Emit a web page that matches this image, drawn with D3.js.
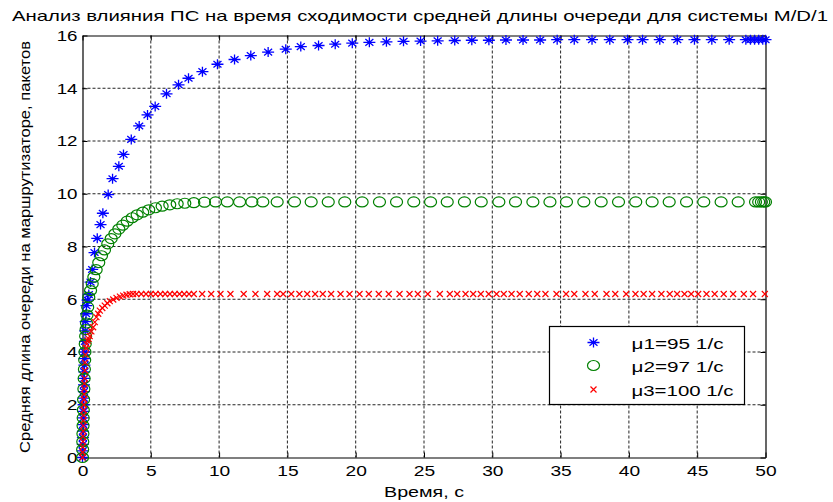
<!DOCTYPE html>
<html>
<head>
<meta charset="utf-8">
<script src="https://cdn.jsdelivr.net/npm/d3@7"></script>
<style>
    body { margin: 0; background: #fff; }
    text { font-family: "Liberation Sans", Arial, sans-serif; fill: #000; }
</style>
</head>
<body>
<div id="chart"></div>
<script>
const titleText = 'Анализ влияния ПС на время сходимости средней длины очереди для системы M/D/1';
const xLabel = 'Время, с';
const yLabel = 'Средняя длина очереди на маршрутизаторе, пакетов';
const xTicks = [0, 5, 10, 15, 20, 25, 30, 35, 40, 45, 50];
const yTicks = [0, 2, 4, 6, 8, 10, 12, 14, 16];
const legendLabels = ['\u03bc1=95 1/c', '\u03bc2=97 1/c', '\u03bc3=100 1/c'];

// [time, queue length]
const mu1 = [[0,0],[0.01,0.25],[0.02,0.5],[0.03,0.75],[0.04,1.0],[0.05,1.25],[0.06,1.5],[0.07,1.75],[0.08,2.0],
    [0.09,2.25],[0.1,2.5],[0.11,2.75],[0.12,3.0],[0.13,3.25],[0.14,3.5],[0.15,3.75],[0.16,4.0],[0.18,4.4],[0.2,4.8],
    [0.23,5.15],[0.26,5.45],[0.29,5.76],[0.37,5.97],[0.46,6.18],[0.59,6.65],[0.71,7.13],[0.88,7.77],[1.08,8.31],
    [1.32,8.83],[1.49,9.26],[1.88,9.97],[2.2,10.57],[2.66,11.04],[3.0,11.49],[3.57,12.06],[4.15,12.57],[4.76,12.99],
    [5.32,13.31],[6.15,13.79],[7.03,14.13],[7.76,14.38],[8.78,14.63],[9.88,14.91],[11.13,15.09],[12.32,15.24],
    [13.59,15.37],[14.88,15.48],[15.98,15.58],[17.28,15.62],[18.5,15.67],[19.75,15.71],[21.0,15.74],[22.25,15.76],
    [23.5,15.78],[24.75,15.79],[26.0,15.8],[27.25,15.81],[28.5,15.82],[29.75,15.82],[31.0,15.83],[32.25,15.83],
    [33.5,15.83],[34.75,15.84],[36.0,15.84],[37.3,15.84],[38.6,15.84],[39.9,15.84],[41.0,15.84],[42.26,15.84],
    [43.54,15.84],[44.8,15.84],[46.07,15.84],[47.34,15.84],[48.56,15.84],[48.9,15.84],[49.2,15.84],[49.5,15.84],
    [49.8,15.84],[50,15.84]];

const mu2 = [[0,0],[0.01,0.3],[0.02,0.6],[0.03,0.9],[0.04,1.2],[0.05,1.5],[0.06,1.8],[0.08,2.2],[0.1,2.6],[0.12,3.0],
    [0.14,3.35],[0.16,3.7],[0.18,4.0],[0.2,4.3],[0.23,4.6],[0.26,4.85],[0.29,5.1],[0.33,5.4],[0.38,5.7],[0.46,6.08],
    [0.59,6.33],[0.71,6.59],[0.83,6.84],[1.0,7.12],[1.19,7.39],[1.39,7.65],[1.61,7.87],[1.85,8.1],[2.1,8.3],
    [2.37,8.48],[2.66,8.66],[2.95,8.81],[3.27,8.96],[3.64,9.09],[4.0,9.2],[4.41,9.3],[4.85,9.39],[5.34,9.47],
    [5.83,9.53],[6.39,9.58],[6.93,9.62],[7.49,9.64],[8.15,9.66],[8.93,9.68],[9.74,9.69],[10.6,9.69],[11.5,9.69],
    [12.4,9.69],[13.2,9.69],[14.25,9.69],[15.52,9.69],[16.74,9.69],[17.99,9.69],[19.2,9.69],[20.47,9.69],
    [21.74,9.69],[22.99,9.69],[24.25,9.69],[25.48,9.69],[26.7,9.69],[27.96,9.69],[29.19,9.69],[30.48,9.69],
    [31.7,9.69],[32.97,9.69],[34.22,9.69],[35.43,9.69],[36.7,9.69],[37.97,9.69],[39.24,9.69],[40.5,9.69],
    [41.7,9.69],[42.95,9.69],[44.22,9.69],[45.48,9.69],[46.75,9.69],[48.0,9.69],[49.27,9.69],[49.5,9.69],
    [49.7,9.69],[49.87,9.69],[50,9.69]];

const mu3 = [[0,0],[0.01,0.2],[0.02,0.4],[0.03,0.6],[0.04,0.8],[0.05,1.0],[0.06,1.2],[0.07,1.4],[0.08,1.6],
    [0.09,1.8],[0.1,2.0],[0.11,2.2],[0.12,2.4],[0.13,2.6],[0.14,2.8],[0.15,3.0],[0.17,3.3],[0.19,3.6],[0.22,3.9],
    [0.26,4.15],[0.31,4.3],[0.38,4.42],[0.45,4.5],[0.53,4.6],[0.65,4.78],[0.78,4.94],[0.9,5.13],[1.02,5.32],
    [1.15,5.45],[1.27,5.57],[1.45,5.67],[1.63,5.76],[1.82,5.85],[2.0,5.93],[2.25,5.99],[2.49,6.05],[2.74,6.1],
    [2.98,6.14],[3.22,6.17],[3.46,6.19],[3.7,6.2],[3.95,6.2],[4.3,6.2],[4.65,6.2],[5.0,6.2],[5.35,6.2],[5.7,6.2],
    [6.05,6.2],[6.4,6.2],[6.75,6.2],[7.1,6.2],[7.45,6.2],[7.8,6.2],[8.15,6.2],[8.76,6.2],[9.42,6.2],[10.1,6.2],
    [10.83,6.2],[11.8,6.2],[12.66,6.2],[13.52,6.2],[14.25,6.2],[14.69,6.2],[15.28,6.2],[15.88,6.2],[16.45,6.2],
    [17.03,6.2],[17.59,6.2],[18.2,6.2],[18.89,6.2],[19.55,6.2],[20.28,6.2],[20.96,6.2],[21.69,6.2],[22.42,6.2],
    [23.21,6.2],[23.94,6.2],[24.55,6.2],[25.28,6.2],[26.16,6.2],[26.89,6.2],[27.43,6.2],[28.04,6.2],[28.6,6.2],
    [29.16,6.2],[29.74,6.2],[30.31,6.2],[30.84,6.2],[31.41,6.2],[32.01,6.2],[32.67,6.2],[33.29,6.2],[33.89,6.2],
    [34.7,6.2],[35.4,6.2],[36.0,6.2],[36.82,6.2],[37.5,6.2],[38.36,6.2],[39.0,6.2],[39.8,6.2],[40.48,6.2],
    [41.08,6.2],[41.7,6.2],[42.38,6.2],[42.99,6.2],[43.53,6.2],[44.07,6.2],[44.56,6.2],[45.07,6.2],[45.68,6.2],
    [46.28,6.2],[46.94,6.2],[47.63,6.2],[48.41,6.2],[49.09,6.2],[49.95,6.2]];

const margin = {top: 35, right: 68, bottom: 45, left: 82};
const width = 833 - margin.left - margin.right;
const height = 502 - margin.top - margin.bottom;

const root = d3.select('#chart')
    .append('svg')
        .attr('width', 833)
        .attr('height', 502);

root.append('rect').attr('width', 833).attr('height', 502).attr('fill', '#fff');

const svg = root.append('g')
    .attr('transform', `translate(${margin.left + 0.5},${margin.top + 0.5})`);

const x = d3.scaleLinear().domain([0, 50]).range([0, width]);
const y = d3.scaleLinear().domain([0, 16]).range([height, 0]);

// dotted grid
svg.append('g')
    .selectAll('line')
    .data(xTicks.slice(1, -1))
    .join('line')
        .attr('x1', d => x(d)).attr('x2', d => x(d))
        .attr('y1', 0).attr('y2', height)
        .attr('stroke', '#222')
        .attr('stroke-dasharray', '3,2');
svg.append('g')
    .selectAll('line')
    .data(yTicks.slice(1, -1))
    .join('line')
        .attr('y1', d => y(d)).attr('y2', d => y(d))
        .attr('x1', 0).attr('x2', width)
        .attr('stroke', '#222')
        .attr('stroke-dasharray', '3,2');

// axes, ticks pointing inward on all four sides
const styleAxis = (g) => {
    g.select('.domain').attr('stroke', '#000').attr('stroke-width', 1.2);
    g.selectAll('.tick line').attr('stroke', '#000');
    g.selectAll('text').style('font-size', '15px').attr('fill', '#000');
};

svg.append('g')
    .attr('transform', `translate(0,${height})`)
    .call(d3.axisBottom(x).tickValues(xTicks).tickSizeInner(-5).tickSizeOuter(0).tickPadding(8))
    .call(styleAxis)
    .call(g => g.selectAll('text').attr('transform', 'scale(1.28,1)'));

svg.append('g')
    .call(d3.axisTop(x).tickValues(xTicks).tickSizeInner(-5).tickSizeOuter(0).tickFormat(''))
    .call(styleAxis);

svg.append('g')
    .call(d3.axisLeft(y).tickValues(yTicks).tickSizeInner(-5).tickSizeOuter(0).tickPadding(4))
    .call(styleAxis)
    .call(g => g.selectAll('text').attr('transform', 'scale(1.25,1)'));

svg.append('g')
    .attr('transform', `translate(${width},0)`)
    .call(d3.axisRight(y).tickValues(yTicks).tickSizeInner(-5).tickSizeOuter(0).tickFormat(''))
    .call(styleAxis);

// marker shapes
const drawStar = (sel) => sel.append('path')
    .attr('d', 'M-6,0H6M0,-5V5M-4,-3.3L4,3.3M-4,3.3L4,-3.3')
    .attr('stroke', '#0000ff').attr('stroke-width', 1.3).attr('fill', 'none');
const drawCircle = (sel) => sel.append('ellipse')
    .attr('rx', 6).attr('ry', 5)
    .attr('stroke', '#008000').attr('stroke-width', 1.2).attr('fill', 'none');
const drawCross = (sel) => sel.append('path')
    .attr('d', 'M-3,-3L3,3M-3,3L3,-3')
    .attr('stroke', '#ff0000').attr('stroke-width', 1.2).attr('fill', 'none');

const series = [
    {data: mu1, draw: drawStar},
    {data: mu2, draw: drawCircle},
    {data: mu3, draw: drawCross}
];

series.forEach(s => {
    svg.append('g')
        .selectAll('g')
        .data(s.data)
        .join('g')
            .attr('transform', d => `translate(${x(d[0])},${y(d[1])})`)
            .call(s.draw);
});

// legend
const legend = root.append('g').attr('transform', 'translate(549.5,326.5)');
legend.append('rect')
    .attr('width', 195).attr('height', 78)
    .attr('fill', '#fff').attr('stroke', '#000').attr('stroke-width', 1.2);
const legendRows = [16, 39, 63];
const legendWidths = [92, 92, 102];
series.forEach((s, i) => {
    legend.append('g')
        .attr('transform', `translate(44,${legendRows[i]})`)
        .call(s.draw);
    legend.append('text')
        .attr('x', 82).attr('y', legendRows[i] + 6)
        .attr('textLength', legendWidths[i])
        .attr('lengthAdjust', 'spacingAndGlyphs')
        .style('font-size', '15px')
        .text(legendLabels[i]);
});

// title and axis labels
root.append('text')
    .attr('x', 12).attr('y', 21)
    .attr('textLength', 816)
    .attr('lengthAdjust', 'spacingAndGlyphs')
    .style('font-size', '15px')
    .text(titleText);

root.append('text')
    .attr('x', 424).attr('y', 497)
    .attr('text-anchor', 'middle')
    .attr('textLength', 80)
    .attr('lengthAdjust', 'spacingAndGlyphs')
    .style('font-size', '15px')
    .text(xLabel);

root.append('text')
    .attr('transform', 'translate(30,247) rotate(-90)')
    .attr('text-anchor', 'middle')
    .attr('textLength', 412)
    .attr('lengthAdjust', 'spacingAndGlyphs')
    .style('font-size', '14px')
    .text(yLabel);
</script>
</body>
</html>
